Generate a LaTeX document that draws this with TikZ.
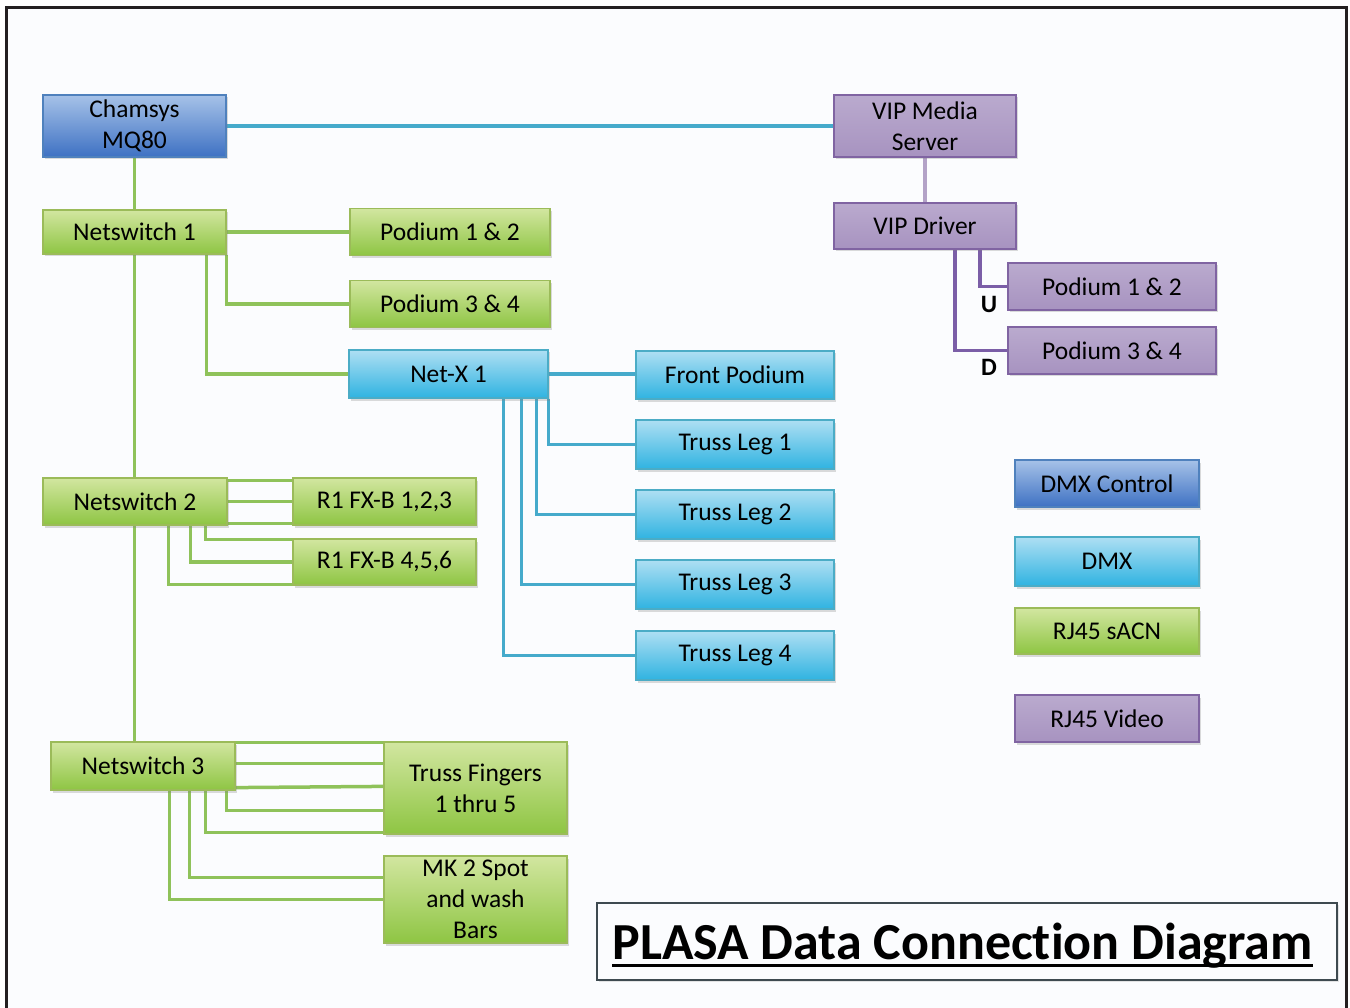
\documentclass[tikz,border=0pt]{standalone}
\usepackage{fontspec}
\setmainfont{Carlito}[Ligatures=NoCommon]
\usetikzlibrary{shadows,backgrounds}
\definecolor{gtop}{HTML}{D2E6A0}
\definecolor{gbot}{HTML}{8EC543}
\definecolor{gbrd}{HTML}{9BBB59}
\definecolor{ctop}{HTML}{AEDFF3}
\definecolor{cbot}{HTML}{2FB3E1}
\definecolor{cbrd}{HTML}{4BACC6}
\definecolor{btop}{HTML}{A6C2E8}
\definecolor{bbot}{HTML}{3E71C3}
\definecolor{bbrd}{HTML}{4F81BD}
\definecolor{ptop}{HTML}{BAAACE}
\definecolor{pbot}{HTML}{A793C0}
\definecolor{pbrd}{HTML}{8064A2}
\definecolor{glc}{HTML}{8FC25A}
\definecolor{blc}{HTML}{45AACB}
\definecolor{plc}{HTML}{7B5EA7}
\definecolor{pll}{HTML}{B3A2C7}
\definecolor{framec}{HTML}{231F20}
\definecolor{titlebrd}{HTML}{3E4A50}
\definecolor{pagebg}{HTML}{FBFCFE}
\begin{document}
\begin{tikzpicture}[x=1pt,y=-1pt,
  box/.style={draw, line width=1.2pt, inner sep=0pt, align=center,
    font=\fontsize{25.5}{31}\selectfont, text=black,
    drop shadow={shadow xshift=2pt, shadow yshift=-2.5pt, opacity=0.28}},
  gbox/.style={box, draw=gbrd, top color=gtop, bottom color=gbot},
  cbox/.style={box, draw=cbrd, top color=ctop, bottom color=cbot},
  bbox/.style={box, draw=bbrd, top color=btop, bottom color=bbot},
  pbox/.style={box, draw=pbrd, top color=ptop, bottom color=pbot},
  gline/.style={draw=glc, line width=3.5pt},
  bline/.style={draw=blc, line width=3.2pt},
  pline/.style={draw=plc, line width=3.2pt},
  plight/.style={draw=pll, line width=4pt},
  sz/.style 2 args={minimum width=#1pt, minimum height=#2pt},
  lbl/.style={font=\fontsize{25}{28}\selectfont\bfseries, inner sep=0pt}
]
\useasboundingbox (0,0) rectangle (1350,1008);
\begin{scope}[on background layer]
  \fill[white] (0,0) rectangle (1350,1008);
  \fill[pagebg] (8,9) rectangle (1345,1008);
\end{scope}
\draw[framec, line width=3.5pt] (6.5,1012) -- (6.5,7.5) -- (1346.5,7.5) -- (1346.5,1012);

% nodes
\node[bbox, sz={183}{62}] (cham) at (134.5,126) {Chamsys\\MQ80};
\node[pbox, sz={182}{62}] (vipm) at (925,126) {VIP Media\\Server};
\node[gbox, sz={183}{44}] (ns1) at (134.5,232) {Netswitch 1};
\node[gbox, sz={200}{47}] (p12g) at (450,232) {Podium 1 \& 2};
\node[gbox, sz={200}{47}] (p34g) at (450,304) {Podium 3 \& 4};
\node[cbox, sz={199}{48}] (netx) at (448.5,374) {Net-X 1};
\node[cbox, sz={198}{48}] (fp) at (735,375) {Front Podium};
\node[cbox, sz={198}{49}] (tl1) at (735,444.5) {Truss Leg 1};
\node[cbox, sz={198}{49}] (tl2) at (735,514.5) {Truss Leg 2};
\node[cbox, sz={198}{49}] (tl3) at (735,584.5) {Truss Leg 3};
\node[cbox, sz={198}{49}] (tl4) at (735,655.5) {Truss Leg 4};
\node[pbox, sz={182}{46}] (vipd) at (925,226) {VIP Driver};
\node[pbox, sz={208}{47}] (p12p) at (1112,286.5) {Podium 1 \& 2};
\node[pbox, sz={208}{47}] (p34p) at (1112,350.5) {Podium 3 \& 4};
\node[lbl] (u) at (989,304) {U};
\node[lbl] (d) at (989,367) {D};
\node[gbox, sz={184}{47}] (ns2) at (135,501.5) {Netswitch 2};
\node[gbox, sz={183}{47}] (fx1) at (384.5,501.5) {R1 FX-B 1,2,3};
\node[gbox, sz={183}{46}] (fx2) at (384.5,562) {R1 FX-B 4,5,6};
\node[gbox, sz={184}{48}] (ns3) at (143,766) {Netswitch 3};
\node[gbox, sz={183}{92}] (tf) at (475.5,788) {Truss Fingers\\1 thru 5};
\node[gbox, sz={183}{87}] (mk) at (475.5,899.5) {MK 2 Spot\\and wash\\Bars};
% legend
\node[bbox, sz={184}{47}] (lgdc) at (1107,483.5) {DMX Control};
\node[cbox, sz={184}{49}] (lgd) at (1107,561.5) {DMX};
\node[gbox, sz={184}{46}] (lgs) at (1107,631) {RJ45 sACN};
\node[pbox, sz={184}{47}] (lgv) at (1107,718.5) {RJ45 Video};
% title
\node[draw=titlebrd, line width=1.6pt, sz={740}{77}, inner sep=0pt,
  drop shadow={shadow xshift=1.5pt, shadow yshift=-1.5pt, opacity=0.2}, fill=pagebg] (tbox) at (967,941.5) {};
\node[anchor=base, inner sep=0pt, font=\fontsize{52}{60}\selectfont\bfseries] (ttl) at (962.5,959) {PLASA Data Connection Diagram};
\draw[black, line width=3pt] ([yshift=-6pt]ttl.base west) -- ([yshift=-6pt]ttl.base east);

% connectors
\begin{scope}[on background layer]
  \draw[bline] (cham.east) -- (vipm.west);
  \draw[plight] (vipm.south) -- (vipd.north);
  \draw[pline] ([xshift=55pt]vipd.south) |- (p12p.west);
  \draw[pline] ([xshift=30pt]vipd.south) |- (p34p.west);
  \draw[gline] (cham.south) -- (cham.south |- ns3.north);
  \draw[gline] (ns1.east) -- (ns1.east -| p12g.west);
  \draw[gline] (ns1.south east) |- (p34g.west);
  \draw[gline] ([xshift=-20pt]ns1.south east) |- (netx.west);
  \draw[gline] ([yshift=-3pt]ns2.north east) -- ([yshift=-3pt]fx1.north west);
  \draw[gline] (ns2.east) -- (fx1.west);
  \draw[gline] ([yshift=2pt]ns2.south east) -- ([yshift=2pt]fx1.south west);
  \draw[gline] ([xshift=-22pt]ns2.south east) |- ([yshift=-1pt]fx2.north west);
  \draw[gline] ([xshift=-37pt]ns2.south east) |- (fx2.west);
  \draw[gline] ([xshift=-59pt]ns2.south east) |- ([yshift=1pt]fx2.south west);
  \draw[gline] ([yshift=-1pt]ns3.north east) -- ([yshift=-1pt]tf.north west);
  \draw[gline] ([yshift=-22pt]ns3.north east) -- ([yshift=-22pt]tf.north west);
  \draw[gline] ([yshift=3pt]ns3.south east) -- ([yshift=-45pt]tf.north west);
  \draw[gline] ([xshift=-9pt]ns3.south east) |- ([yshift=-69pt]tf.north west);
  \draw[gline] ([xshift=-30pt]ns3.south east) |- ([yshift=2pt]tf.south west);
  \draw[gline] ([xshift=-46pt]ns3.south east) |- ([yshift=-22pt]mk.north west);
  \draw[gline] ([xshift=-66pt]ns3.south east) |- (mk.west);
  \draw[bline] (netx.east) -- (netx.east -| fp.west);
  \draw[bline] (netx.south east) |- (tl1.west);
  \draw[bline] ([xshift=-12pt]netx.south east) |- (tl2.west);
  \draw[bline] ([xshift=-27pt]netx.south east) |- (tl3.west);
  \draw[bline] ([xshift=-45pt]netx.south east) |- (tl4.west);
\end{scope}
\end{tikzpicture}
\end{document}
